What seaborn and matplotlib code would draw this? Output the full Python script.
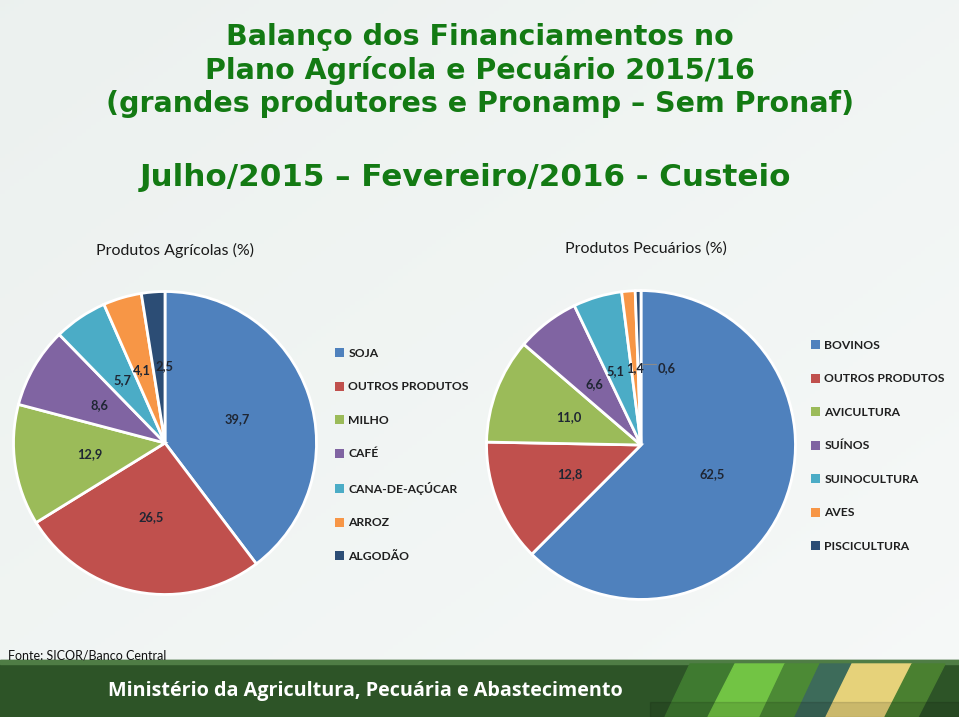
import numpy as np
import matplotlib
matplotlib.use("Agg")
import matplotlib.pyplot as plt
from matplotlib.patches import Polygon, Patch
import seaborn as sns

# ---- data ----
agri_labels = ["SOJA", "OUTROS PRODUTOS", "MILHO", "CAFÉ", "CANA-DE-AÇÚCAR", "ARROZ", "ALGODÃO"]
agri_values = [39.7, 26.5, 12.9, 8.6, 5.7, 4.1, 2.5]
pec_labels = ["BOVINOS", "OUTROS PRODUTOS", "AVICULTURA", "SUÍNOS", "SUINOCULTURA", "AVES", "PISCICULTURA"]
pec_values = [62.5, 12.8, 11.0, 6.6, 5.1, 1.4, 0.6]

title_lines = ["Balanço dos Financiamentos no", "Plano Agrícola e Pecuário 2015/16",
               "(grandes produtores e Pronamp – Sem Pronaf)"]
subtitle = "Julho/2015 – Fevereiro/2016 - Custeio"
agri_title = "Produtos Agrícolas (%)"
pec_title = "Produtos Pecuários (%)"
source = "Fonte: SICOR/Banco Central"
footer = "Ministério da Agricultura, Pecuária e Abastecimento"

sns.set_style("white")
plt.rcParams["font.family"] = ["Lato", "DejaVu Sans"]

colors = ["#4F81BD", "#C0504D", "#9BBB59", "#8064A2", "#4BACC6", "#F79646", "#2C4D75"]

W, H = 959, 717
fig = plt.figure(figsize=(W / 100, H / 100), dpi=100)

# background gradient
bg = fig.add_axes([0, 0, 1, 1], zorder=-10)
yy, xx = np.mgrid[0:1:200j, 0:1:200j]
grad = 0.5 * xx + 0.5 * (1 - yy)
c1 = np.array([0.925, 0.945, 0.937])
c2 = np.array([0.965, 0.975, 0.972])
img = c1[None, None, :] * (1 - grad[..., None]) + c2[None, None, :] * grad[..., None]
bg.imshow(img, extent=[0, 1, 0, 1], aspect="auto", origin="lower")
bg.set_xlim(0, 1); bg.set_ylim(0, 1)
bg.axis("off")

def px_axes(cx, cy, r):
    return fig.add_axes([(cx - r) / W, (H - cy - r) / H, 2 * r / W, 2 * r / H])

def fmt(v):
    return f"{v:.1f}".replace(".", ",")

def draw_pie(ax, values):
    wedges, texts, autotexts = ax.pie(
        values, colors=colors, startangle=90, counterclock=False,
        autopct="%1.1f", pctdistance=0.5,
        wedgeprops=dict(edgecolor="white", linewidth=2),
        textprops=dict(fontsize=9.3, fontweight="bold", color="#1f2633"))
    for t, v in zip(autotexts, values):
        t.set_text(fmt(v))
    ax.set_xlim(-1.01, 1.01); ax.set_ylim(-1.01, 1.01)
    ax.set_aspect("equal")
    ax.axis("off")
    return wedges, autotexts

def nudge(t, dx, dy=0.0):
    x, y = t.get_position()
    t.set_position((x + dx, y + dy))

ax1 = px_axes(165, 443, 153)
w1, a1 = draw_pie(ax1, agri_values)
nudge(a1[-1], 0.035, 0.01)
nudge(a1[-2], -0.01)

ax2 = px_axes(641, 445, 156)
w2, a2 = draw_pie(ax2, pec_values)
nudge(a2[-3], -0.025)
# move smallest label out with leader line
a2[-1].set_position((0.105, 0.5))
a2[-1].set_ha("left")
ax2.plot([0.01, 0.095], [0.525, 0.525], color="#8a8a8a", lw=0.8)

# legends
def legend(labels, x, y):
    handles = [Patch(facecolor=c, edgecolor="none") for c in colors]
    fig.legend(handles, labels, loc="upper left", bbox_to_anchor=(x / W, 1 - y / H),
               frameon=False, prop=dict(family="Lato", weight="bold", size=8.7),
               handlelength=0.75, handleheight=0.75,
               handletextpad=0.35, labelspacing=1.86, borderaxespad=0, borderpad=0,
               labelcolor="#1f1f1f")

legend(agri_labels, 335, 348)
legend(pec_labels, 811, 340)

# titles
green = "#137a13"
for i, line in enumerate(title_lines):
    fig.text(480 / W, 1 - (37 + i * 33.5) / H, line, ha="center", va="center",
             fontsize=20.5, fontweight="bold", color=green, family="DejaVu Sans")
fig.text(465 / W, 1 - 178 / H, subtitle, ha="center", va="center",
         fontsize=22.3, fontweight="bold", color=green, family="DejaVu Sans")

fig.text(96 / W, 1 - 250 / H, agri_title, ha="left", va="center", fontsize=11.5, color="#1a1a1a")
fig.text(565 / W, 1 - 249 / H, pec_title, ha="left", va="center", fontsize=11.5, color="#1a1a1a")

# footer band
fa = fig.add_axes([0, 0, 1, 1], zorder=5)
fa.set_xlim(0, W); fa.set_ylim(H, 0)
fa.axis("off")
fa.add_patch(Polygon([[0, 660], [W, 660], [W, H], [0, H]], closed=True, color="#2d5427"))
fa.add_patch(Polygon([[0, 660], [W, 660], [W, 664], [0, 664]], closed=True, color="#4f7d45"))
stripes = [
    ([690, 664], [735, 664], [712, 717], [665, 717], "#3f7a30"),
    ([735, 664], [785, 664], [760, 717], [708, 717], "#72c444"),
    ([785, 664], [820, 664], [795, 717], [760, 717], "#4c8a35"),
    ([820, 664], [852, 664], [827, 717], [795, 717], "#3d6b5a"),
    ([852, 664], [912, 664], [885, 717], [826, 717], "#e6d27a"),
    ([912, 664], [945, 664], [918, 717], [885, 717], "#4a8030"),
]
for a, b, c, d, col in stripes:
    fa.add_patch(Polygon([a, b, c, d], closed=True, color=col))
fa.add_patch(Polygon([[650, 702], [W, 702], [W, H], [650, H]], closed=True, color="black", alpha=0.12))

fa.text(108, 691, footer, ha="left", va="center", fontsize=14.2, fontweight="bold", color="white",
        family="Open Sans")
fa.text(8, 655, source, ha="left", va="center", fontsize=9, color="#111111")

fig.savefig("out.png", dpi=100)
